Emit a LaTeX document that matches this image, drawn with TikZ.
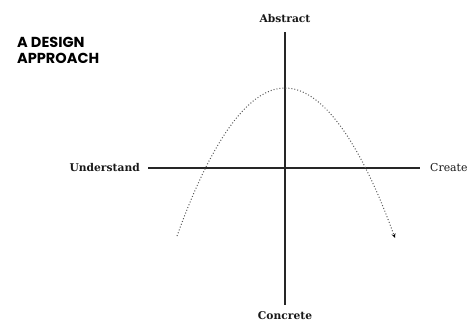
\documentclass[tikz,border=0pt]{standalone}
\usepackage{fontspec}
\setmainfont{DejaVu Serif}
\newfontfamily\titlefont{Poppins}
\usetikzlibrary{arrows.meta}
\tikzset{
  axis/.style={line width=1.1pt, black!85},
  lbl/.style={font=\fontsize{10.7}{12}\selectfont\bfseries, inner sep=0pt, text=black!90},
  lblreg/.style={font=\fontsize{10.9}{12}\selectfont, inner sep=0pt, text=black!90},
  curve/.style={dotted, line width=1pt, black!65, -{Stealth[length=4.5pt,width=4pt,black]}},
  title/.style={font=\titlefont\fontsize{14.5}{16}\selectfont\bfseries, align=left, anchor=north west, inner sep=0pt}
}
\begin{document}
\begin{tikzpicture}[x=1pt,y=-1pt]
\useasboundingbox (0,0) rectangle (471,322);
\node[title] (ttl) at (17,37) {A DESIGN\\APPROACH};
\node[lbl] (abs) at (285,19) {Abstract};
\node[lbl] (con) at (285,316) {Concrete};
\node[lbl, anchor=east] (und) at (140,168) {Understand};
\node[lblreg, anchor=west] (cre) at (430,168) {Create};
\coordinate (vtop) at (285,32);
\coordinate (vbot) at (285,305);
\coordinate (hl) at (148,168);
\coordinate (hr) at (420,168);
\draw[axis] (vtop) -- (vbot);
\draw[axis] (hl) -- (hr);
\coordinate (cs) at (177,236);
\coordinate (cb) at (285,88);
\coordinate (ce) at (395,238);
\draw[curve] (cs) parabola bend (cb) (ce);
\end{tikzpicture}
\end{document}
